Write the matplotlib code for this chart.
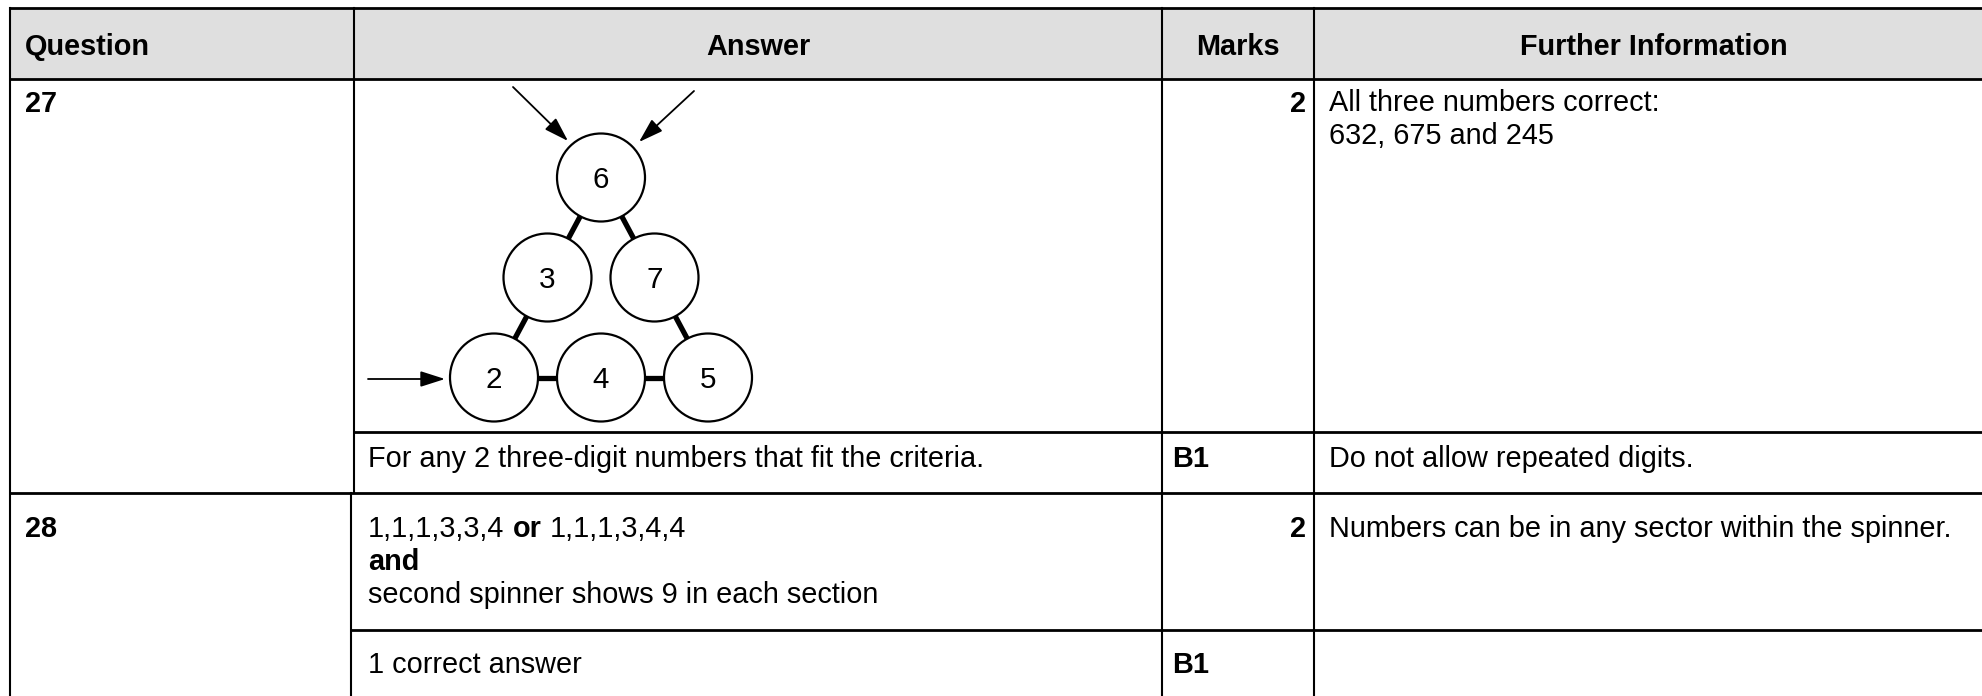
import matplotlib
matplotlib.use("Agg")
import matplotlib.pyplot as plt
from matplotlib.patches import Circle, Rectangle, FancyArrowPatch

plt.rcParams['font.family'] = ['Liberation Sans', 'DejaVu Sans']

# table content
headers = ["Question", "Answer", "Marks", "Further Information"]
questions = ["27", "28"]
q27_marks = ["2", "B1"]
q27_answer_sub = "For any 2 three-digit numbers that fit the criteria."
q27_info = ["All three numbers correct:", "632, 675 and 245"]
q27_info_sub = "Do not allow repeated digits."
q28_answer = [("1,1,1,3,3,4", "normal"), ("or", "bold"), ("1,1,1,3,4,4", "normal")]
q28_answer_lines = [("and", "bold"), ("second spinner shows 9 in each section", "normal")]
q28_marks = ["2", "B1"]
q28_info = "Numbers can be in any sector within the spinner."
q28_answer_sub = "1 correct answer"

# pyramid digits, top row first
pyramid = [[6], [3, 7], [2, 4, 5]]
# links along the edges of the triangle (row, col) pairs
links = [((0, 0), (1, 0)), ((0, 0), (1, 1)), ((1, 0), (2, 0)),
         ((1, 1), (2, 2)), ((2, 0), (2, 1)), ((2, 1), (2, 2))]

W, H = 1983, 696
fs = 20.8
lw_v = 1.5
lw_h = 2.0

fig = plt.figure(figsize=(W / 100, H / 100), dpi=100)
ax = fig.add_axes([0, 0, 1, 1])
ax.set_xlim(0, W)
ax.set_ylim(H, 0)
ax.axis('off')

# column edges
x_left, x_q, x_a, x_m = 10, 354, 1162, 1314
y_top, y_head = 8, 79
y_sub27, y_row28, y_sub28 = 432, 493, 630

ax.add_patch(Rectangle((x_left, y_top), W - x_left, y_head - y_top,
                       facecolor='#dfdfdf', edgecolor='none', zorder=0))

# horizontal rules
ax.plot([x_left, W], [y_top, y_top], color='k', lw=lw_h, solid_capstyle='butt')
ax.plot([x_left, W], [y_head, y_head], color='k', lw=lw_h, solid_capstyle='butt')
ax.plot([x_q, W], [y_sub27, y_sub27], color='k', lw=lw_h, solid_capstyle='butt')
ax.plot([x_left, W], [y_row28, y_row28], color='k', lw=lw_h, solid_capstyle='butt')
ax.plot([x_q - 3, W], [y_sub28, y_sub28], color='k', lw=lw_h, solid_capstyle='butt')

# vertical rules
ax.plot([x_left, x_left], [y_top, H], color='k', lw=lw_v)
ax.plot([x_q, x_q], [y_top, y_row28], color='k', lw=lw_v)
ax.plot([x_q - 3, x_q - 3], [y_row28, H], color='k', lw=lw_v)
ax.plot([x_a, x_a], [y_top, H], color='k', lw=lw_v)
ax.plot([x_m, x_m], [y_top, H], color='k', lw=lw_v)

# header
hy = 55
ax.text(25, hy, headers[0], fontsize=fs, fontweight='bold', va='baseline', ha='left')
ax.text((x_q + x_a) / 2, hy, headers[1], fontsize=fs, fontweight='bold', va='baseline', ha='center')
ax.text((x_a + x_m) / 2, hy, headers[2], fontsize=fs, fontweight='bold', va='baseline', ha='center')
ax.text((x_m + 1994) / 2, hy, headers[3], fontsize=fs, fontweight='bold', va='baseline', ha='center')

# question 27
ax.text(25, 112, questions[0], fontsize=fs, fontweight='bold', va='baseline')
ax.text(x_m - 8, 112, q27_marks[0], fontsize=fs, fontweight='bold', va='baseline', ha='right')
ax.text(1329, 111, q27_info[0], fontsize=fs, va='baseline')
ax.text(1329, 144, q27_info[1], fontsize=fs, va='baseline')
ax.text(368, 467, q27_answer_sub, fontsize=fs, va='baseline')
ax.text(1172, 467, q27_marks[1], fontsize=fs, fontweight='bold', va='baseline')
ax.text(1329, 467, q27_info_sub, fontsize=fs, va='baseline')

# pyramid diagram
cx0, cy0 = 601, 177.5
dx, dy, r = 107, 100, 44
pos = {}
for i, row in enumerate(pyramid):
    for j, val in enumerate(row):
        x = cx0 - i * dx / 2 + j * dx
        y = cy0 + i * dy
        pos[(i, j)] = (x, y)
        ax.add_patch(Circle((x, y), r, facecolor='white', edgecolor='k', lw=1.6, zorder=3))
        ax.text(x, y + 10, str(val), fontsize=fs + 0.5, ha='center', va='baseline', zorder=4)
for a, b in links:
    ax.plot([pos[a][0], pos[b][0]], [pos[a][1], pos[b][1]], color='k', lw=3.8, zorder=2)

arrows = [((513, 87), (568, 141)), ((694, 91), (639, 142)), ((368, 379), (445, 379))]
for p0, p1 in arrows:
    ax.add_patch(FancyArrowPatch(p0, p1, arrowstyle='-|>,head_length=1.0,head_width=0.32',
                                 mutation_scale=15, color='k', lw=1.3,
                                 shrinkA=0, shrinkB=0, zorder=5))

# question 28
ax.text(25, 537, questions[1], fontsize=fs, fontweight='bold', va='baseline')
fig.canvas.draw()
renderer = fig.canvas.get_renderer()
sp = 8
x = 368
for s, w in q28_answer:
    t = ax.text(x, 537, s, fontsize=fs, fontweight=w, va='baseline')
    x = t.get_window_extent(renderer).x1 + sp
for k, (s, w) in enumerate(q28_answer_lines):
    ax.text(368, 570 + 33 * k, s, fontsize=fs, fontweight=w, va='baseline')
ax.text(x_m - 8, 537, q28_marks[0], fontsize=fs, fontweight='bold', va='baseline', ha='right')
ax.text(1329, 537, q28_info, fontsize=fs, va='baseline')
ax.text(368, 673, q28_answer_sub, fontsize=fs, va='baseline')
ax.text(1172, 673, q28_marks[1], fontsize=fs, fontweight='bold', va='baseline')

plt.savefig("out.png", dpi=100)
plt.close()
